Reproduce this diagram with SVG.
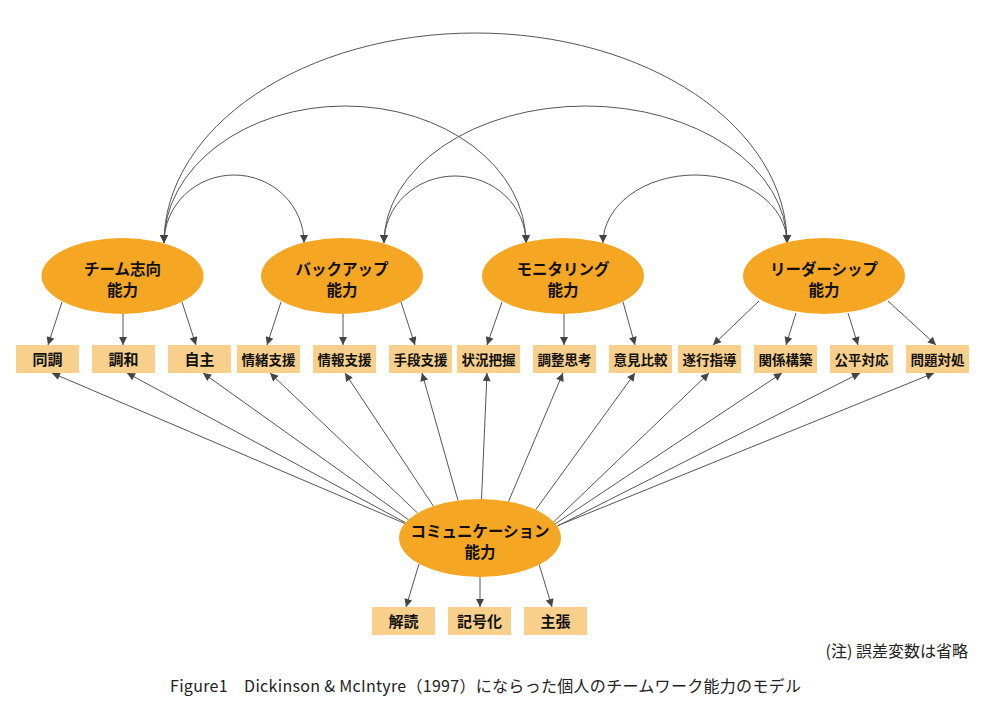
<svg xmlns="http://www.w3.org/2000/svg" width="989" height="711" viewBox="0 0 989 711">
<style>
.bg{fill:#ffffff}
.lat{fill:#F5A623}
.obs{fill:#F8D08C}
.lbl{font-family:"Noto Sans CJK JP","Noto Sans",sans-serif;font-weight:bold;fill:#111;text-anchor:middle}
.el{font-size:15.5px}
.b2{font-size:15px}
.b4{font-size:13.5px}
.cn path,.cn line{stroke:#555;stroke-width:1;fill:none}
.cap{font-family:"Noto Sans CJK JP","Noto Sans",sans-serif;fill:#222}
</style>
<defs>
<marker id="ah" viewBox="0 0 10 10" refX="10" refY="5" markerWidth="9" markerHeight="8" markerUnits="userSpaceOnUse" orient="auto-start-reverse">
<path d="M0,0 L10,5 L0,10 z" fill="#444"/>
</marker>
</defs>
<rect class="bg" x="0" y="0" width="989" height="711"/>

<g id="connectors" class="cn">
<path d="M164,243 A70,68 0 0 1 304,243" marker-start="url(#ah)" marker-end="url(#ah)"/>
<path d="M384,243 A71,67 0 0 1 526,243" marker-start="url(#ah)" marker-end="url(#ah)"/>
<path d="M603,243 A92,68 0 0 1 787,243" marker-start="url(#ah)" marker-end="url(#ah)"/>
<path d="M164,243 A181,137 0 0 1 526,243" marker-start="url(#ah)" marker-end="url(#ah)"/>
<path d="M384,243 A201.5,137 0 0 1 787,243" marker-start="url(#ah)" marker-end="url(#ah)"/>
<path d="M164,243 A311.5,210 0 0 1 787,243" marker-start="url(#ah)" marker-end="url(#ah)"/>
<line x1="62" y1="302" x2="48" y2="345" marker-end="url(#ah)"/>
<line x1="123" y1="314" x2="123" y2="345" marker-end="url(#ah)"/>
<line x1="182" y1="302" x2="196" y2="345" marker-end="url(#ah)"/>
<line x1="281" y1="302" x2="267" y2="345" marker-end="url(#ah)"/>
<line x1="343" y1="314" x2="343" y2="345" marker-end="url(#ah)"/>
<line x1="401" y1="302" x2="415" y2="345" marker-end="url(#ah)"/>
<line x1="502" y1="302" x2="487" y2="345" marker-end="url(#ah)"/>
<line x1="564" y1="314" x2="564" y2="345" marker-end="url(#ah)"/>
<line x1="623" y1="302" x2="635" y2="345" marker-end="url(#ah)"/>
<line x1="759" y1="301" x2="713" y2="345" marker-end="url(#ah)"/>
<line x1="796" y1="313" x2="786" y2="345" marker-end="url(#ah)"/>
<line x1="848" y1="313" x2="858" y2="345" marker-end="url(#ah)"/>
<line x1="888" y1="301" x2="936" y2="345" marker-end="url(#ah)"/>
<line x1="419" y1="564" x2="406" y2="607" marker-end="url(#ah)"/>
<line x1="480" y1="577" x2="480" y2="607" marker-end="url(#ah)"/>
<line x1="539" y1="564" x2="552" y2="607" marker-end="url(#ah)"/>
<line x1="405" y1="523.5" x2="52" y2="373" marker-end="url(#ah)"/>
<line x1="405.5" y1="522.7" x2="127" y2="373" marker-end="url(#ah)"/>
<line x1="408.5" y1="519.7" x2="203" y2="373" marker-end="url(#ah)"/>
<line x1="417.6" y1="513" x2="270" y2="373" marker-end="url(#ah)"/>
<line x1="433.3" y1="506" x2="345" y2="373" marker-end="url(#ah)"/>
<line x1="458" y1="500.5" x2="422" y2="373" marker-end="url(#ah)"/>
<line x1="481.5" y1="499" x2="487" y2="373" marker-end="url(#ah)"/>
<line x1="508.5" y1="501.5" x2="563" y2="373" marker-end="url(#ah)"/>
<line x1="535.8" y1="509.6" x2="635" y2="373" marker-end="url(#ah)"/>
<line x1="553.5" y1="522" x2="709" y2="373" marker-end="url(#ah)"/>
<line x1="555" y1="524" x2="782" y2="373" marker-end="url(#ah)"/>
<line x1="556.5" y1="526.5" x2="860" y2="373" marker-end="url(#ah)"/>
<line x1="558" y1="525.5" x2="934" y2="373" marker-end="url(#ah)"/>
</g>

<g id="team">
<ellipse class="lat" cx="122.5" cy="276" rx="81" ry="38"/>
<text class="lbl el" x="122.5" y="275">チーム志向</text>
<text class="lbl el" x="122.5" y="296">能力</text>
</g>
<g id="backup">
<ellipse class="lat" cx="342" cy="276" rx="81" ry="38"/>
<text class="lbl el" x="342" y="275">バックアップ</text>
<text class="lbl el" x="342" y="296">能力</text>
</g>
<g id="monitoring">
<ellipse class="lat" cx="563" cy="276" rx="81" ry="38"/>
<text class="lbl el" x="563" y="275">モニタリング</text>
<text class="lbl el" x="563" y="296">能力</text>
</g>
<g id="leadership">
<ellipse class="lat" cx="824" cy="276" rx="81" ry="38"/>
<text class="lbl el" x="824" y="275">リーダーシップ</text>
<text class="lbl el" x="824" y="296">能力</text>
</g>
<g id="communication">
<ellipse class="lat" cx="480" cy="538" rx="81" ry="39"/>
<text class="lbl el" x="480" y="537">コミュニケーション</text>
<text class="lbl el" x="480" y="557.5">能力</text>
</g>

<g id="doucho"><rect class="obs" x="16" y="345" width="63" height="28"/><text class="lbl b2" x="47.5" y="365">同調</text></g>
<g id="chowa"><rect class="obs" x="92" y="345" width="63" height="28"/><text class="lbl b2" x="123.5" y="365">調和</text></g>
<g id="jishu"><rect class="obs" x="168" y="345" width="63" height="28"/><text class="lbl b2" x="199.5" y="365">自主</text></g>
<g id="jocho"><rect class="obs" x="237" y="345" width="63" height="28"/><text class="lbl b4" x="268.5" y="364.5">情緒支援</text></g>
<g id="joho"><rect class="obs" x="313" y="345" width="63" height="28"/><text class="lbl b4" x="344.5" y="364.5">情報支援</text></g>
<g id="shudan"><rect class="obs" x="389" y="345" width="63" height="28"/><text class="lbl b4" x="420.5" y="364.5">手段支援</text></g>
<g id="jokyo"><rect class="obs" x="457" y="345" width="63" height="28"/><text class="lbl b4" x="488.5" y="364.5">状況把握</text></g>
<g id="chosei"><rect class="obs" x="533" y="345" width="63" height="28"/><text class="lbl b4" x="564.5" y="364.5">調整思考</text></g>
<g id="iken"><rect class="obs" x="609" y="345" width="63" height="28"/><text class="lbl b4" x="640.5" y="364.5">意見比較</text></g>
<g id="suiko"><rect class="obs" x="678" y="345" width="63" height="28"/><text class="lbl b4" x="709.5" y="364.5">遂行指導</text></g>
<g id="kankei"><rect class="obs" x="754" y="345" width="63" height="28"/><text class="lbl b4" x="785.5" y="364.5">関係構築</text></g>
<g id="kohei"><rect class="obs" x="830" y="345" width="63" height="28"/><text class="lbl b4" x="861.5" y="364.5">公平対応</text></g>
<g id="mondai"><rect class="obs" x="906" y="345" width="63" height="28"/><text class="lbl b4" x="937.5" y="364.5">問題対処</text></g>

<g id="kaidoku"><rect class="obs" x="372" y="607" width="63" height="28"/><text class="lbl b2" x="403.5" y="627">解読</text></g>
<g id="kigouka"><rect class="obs" x="448" y="607" width="63" height="28"/><text class="lbl b2" x="479.5" y="627">記号化</text></g>
<g id="shucho"><rect class="obs" x="524" y="607" width="63" height="28"/><text class="lbl b2" x="555.5" y="627">主張</text></g>

<text class="cap" x="968" y="657" font-size="16" text-anchor="end">(注) 誤差変数は省略</text>
<text class="cap" x="170" y="692" font-size="16" textLength="631" lengthAdjust="spacing">Figure1　Dickinson &amp; McIntyre（1997）にならった個人のチームワーク能力のモデル</text>
</svg>
